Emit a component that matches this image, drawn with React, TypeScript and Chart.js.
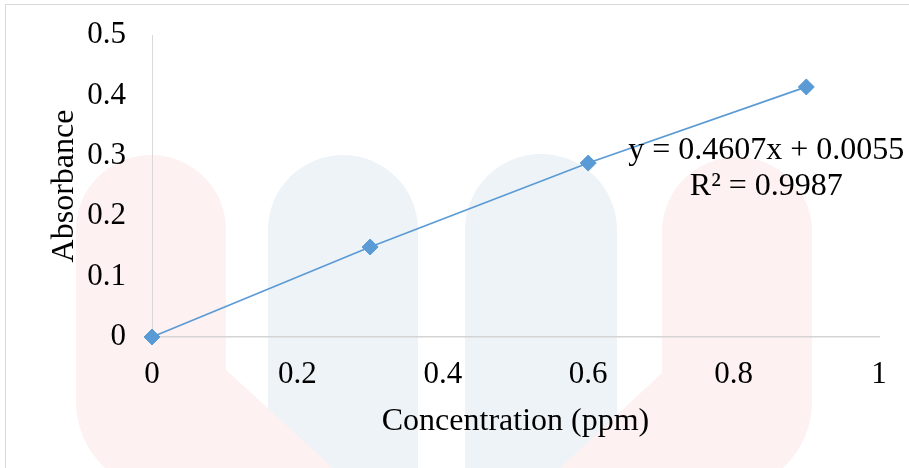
import React, { useEffect, useRef } from "react";
import { Chart, registerables } from "chart.js";

Chart.register(...registerables);

// ---- data ----
const concentrations = [0, 0.3, 0.6, 0.9];
const absorbances = [0, 0.149, 0.288, 0.414];
const xTitle = "Concentration (ppm)";
const yTitle = "Absorbance";
const trendLines = ["y = 0.4607x + 0.0055", "R\u00B2 = 0.9987"];
const trendLabelAt = { x: 0.845, y: 0.308 };
const xRange = { min: 0, max: 1, step: 0.2 };
const yRange = { min: 0, max: 0.5, step: 0.1 };

const FONT = "'Liberation Serif', 'Times New Roman', serif";
const BLUE = "#5B9BD5";

const fmt = (v: number) => String(Math.round(v * 10) / 10);

const backgroundPlugin = {
  id: "bgWatermark",
  beforeDraw(chart: any) {
    const ctx = chart.ctx as CanvasRenderingContext2D;
    const W = chart.width;
    const H = chart.height;
    ctx.save();
    ctx.fillStyle = "#ffffff";
    ctx.fillRect(0, 0, W, H);
    // faint watermark (blue columns first, pink on top)
    ctx.fillStyle = "#EEF3F8";
    const blueCols = [
      { cx: 343, r: 75 },
      { cx: 541, r: 76 },
    ];
    for (const c of blueCols) {
      ctx.beginPath();
      ctx.moveTo(c.cx - c.r, H);
      ctx.lineTo(c.cx - c.r, 230);
      ctx.arc(c.cx, 230, c.r, Math.PI, 0);
      ctx.lineTo(c.cx + c.r, H);
      ctx.closePath();
      ctx.fill();
    }
    ctx.fillStyle = "#FDF1F1";
    // left pink
    ctx.beginPath();
    ctx.moveTo(76, 230);
    ctx.arc(151, 230, 75, Math.PI, 0);
    ctx.lineTo(226, 370);
    ctx.lineTo(333, H);
    ctx.lineTo(105, H);
    ctx.quadraticCurveTo(76, 440, 76, 400);
    ctx.closePath();
    ctx.fill();
    // right pink
    ctx.beginPath();
    ctx.moveTo(662, 232);
    ctx.arc(737, 232, 75, Math.PI, 0);
    ctx.lineTo(812, 400);
    ctx.quadraticCurveTo(812, 440, 783, H);
    ctx.lineTo(560, H);
    ctx.lineTo(662, 373);
    ctx.closePath();
    ctx.fill();
    // frame
    ctx.strokeStyle = "#d9d9d9";
    ctx.lineWidth = 1;
    ctx.strokeRect(5.5, 4.5, W + 20, H + 20);
    ctx.restore();
  },
};

const trendLabelPlugin = {
  id: "trendLabel",
  afterDatasetsDraw(chart: any) {
    const ctx = chart.ctx as CanvasRenderingContext2D;
    const xs = chart.scales.x;
    const ys = chart.scales.y;
    const px = xs.getPixelForValue(trendLabelAt.x);
    const py = ys.getPixelForValue(trendLabelAt.y);
    ctx.save();
    ctx.font = `32px ${FONT}`;
    ctx.fillStyle = "#000000";
    ctx.textAlign = "center";
    ctx.textBaseline = "middle";
    trendLines.forEach((t, i) => ctx.fillText(t, px, py + i * 36));
    ctx.restore();
  },
};

export default function App() {
  const ref = useRef<HTMLCanvasElement>(null);
  useEffect(() => {
    if (!ref.current) return;
    const chart = new Chart(ref.current, {
      type: "scatter",
      data: {
        datasets: [
          {
            data: concentrations.map((x, i) => ({ x, y: absorbances[i] })),
            showLine: true,
            clip: false,
            borderColor: BLUE,
            borderWidth: 1.75,
            backgroundColor: BLUE,
            pointStyle: "rectRot",
            pointRadius: 8,
            pointBorderWidth: 1,
            pointBorderColor: BLUE,
            pointBackgroundColor: BLUE,
          },
        ],
      },
      plugins: [backgroundPlugin, trendLabelPlugin],
      options: {
        animation: false,
        responsive: false,
        devicePixelRatio: 1,
        layout: { padding: { top: 35, right: 30, left: 0, bottom: 0 } },
        plugins: { legend: { display: false }, tooltip: { enabled: false } },
        scales: {
          x: {
            type: "linear",
            min: xRange.min,
            max: xRange.max,
            afterFit: (s: any) => {
              s.height = 131;
              s.paddingLeft = 0;
              s.paddingRight = 0;
            },
            grid: { display: false, drawTicks: false },
            border: { display: true, color: "#d4d4d4", width: 1.5 },
            ticks: {
              stepSize: xRange.step,
              padding: 19,
              color: "#000000",
              font: { family: FONT, size: 31 },
              maxRotation: 0,
              callback: (v: any) => fmt(Number(v)),
            },
            title: {
              display: true,
              text: xTitle,
              color: "#000000",
              font: { family: FONT, size: 32 },
              padding: { top: 0, bottom: 27 },
            },
          },
          y: {
            type: "linear",
            min: yRange.min,
            max: yRange.max,
            afterFit: (s: any) => {
              s.width = 152;
              s.paddingTop = 0;
              s.paddingBottom = 0;
            },
            grid: { display: false, drawTicks: false },
            border: { display: true, color: "#d9d9d9", width: 1 },
            ticks: {
              stepSize: yRange.step,
              padding: 26,
              color: "#000000",
              font: { family: FONT, size: 31 },
              callback: (v: any) => fmt(Number(v)),
            },
            title: {
              display: true,
              text: yTitle,
              color: "#000000",
              font: { family: FONT, size: 32 },
              padding: { top: 45, bottom: 0 },
            },
          },
        },
      },
    } as any);
    return () => chart.destroy();
  }, []);
  return (
    <div style={{ position: "absolute", left: 0, top: 0, width: 909, height: 468 }}>
      <canvas ref={ref} width={909} height={468} style={{ width: 909, height: 468, display: "block" }} />
    </div>
  );
}
